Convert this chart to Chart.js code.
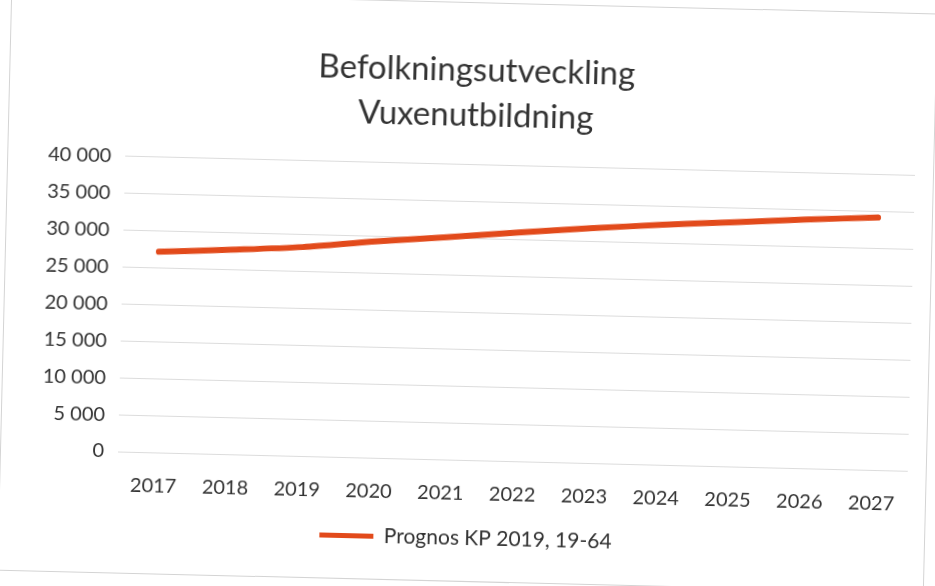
<!DOCTYPE html>
<html>
<head>
<meta charset="utf-8">
<script src="https://cdn.jsdelivr.net/npm/chart.js@4.4.0/dist/chart.umd.min.js"></script>
<style>
  html, body { margin: 0; padding: 0; background: #fff; }
  #wrap {
    position: absolute; left: 4px; top: 2px; width: 925px; height: 578px;
    border: 1px solid #d4d4d4; background: #fff;
    transform: rotate(1.4deg); transform-origin: 50% 50%;
  }
</style>
</head>
<body>
<div id="wrap"><canvas id="myChart"></canvas></div>
<script>
var years = ["2017", "2018", "2019", "2020", "2021", "2022", "2023", "2024", "2025", "2026", "2027"];
var prognos = [27200, 27700, 28300, 29300, 30100, 31000, 31800, 32500, 33100, 33700, 34200];
var seriesName = "Prognos KP 2019, 19-64";
var titleLines = ["Befolkningsutveckling", "Vuxenutbildning"];

var ctx = document.getElementById("myChart");

var myChart = new Chart(ctx, {
  type: 'line',
  data: {
    labels: years,
    datasets: [{
      label: seriesName,
      data: prognos,
      borderColor: "#e24a1b",
      backgroundColor: "#e24a1b",
      borderWidth: 6,
      borderCapStyle: 'round',
      pointRadius: 0,
      tension: 0.3
    }]
  },
  options: {
    responsive: true,
    maintainAspectRatio: false,
    animation: false,
    layout: { padding: { left: 26, right: 18, top: 45, bottom: 22 } },
    plugins: {
      title: {
        display: true,
        text: titleLines,
        color: "#333",
        font: { family: "Lato", size: 33, weight: 'normal', lineHeight: 1.36 },
        padding: { top: 0, bottom: 27 }
      },
      legend: {
        position: 'bottom',
        labels: {
          color: "#333",
          font: { family: "Lato", size: 21 },
          boxWidth: 54,
          boxHeight: 5,
          padding: 0,
          generateLabels: function(chart) {
            var items = Chart.defaults.plugins.legend.labels.generateLabels(chart);
            items.forEach(function(it) { it.lineWidth = 0; });
            return items;
          }
        }
      },
      tooltip: { enabled: false }
    },
    scales: {
      x: {
        offset: true,
        grid: { display: false, drawTicks: false },
        border: { display: false },
        ticks: { color: "#333", font: { family: "Lato", size: 20 }, padding: 22, maxRotation: 0 }
      },
      y: {
        min: 0,
        max: 40000,
        border: { display: false },
        grid: { color: "#dcdcdc", lineWidth: 1, drawTicks: false },
        ticks: {
          stepSize: 5000,
          color: "#333",
          padding: 14,
          font: { family: "Lato", size: 20 },
          callback: function(v) {
            return String(v).replace(/\B(?=(\d{3})+(?!\d))/g, " ");
          }
        }
      }
    }
  }
});
</script>
</body>
</html>
